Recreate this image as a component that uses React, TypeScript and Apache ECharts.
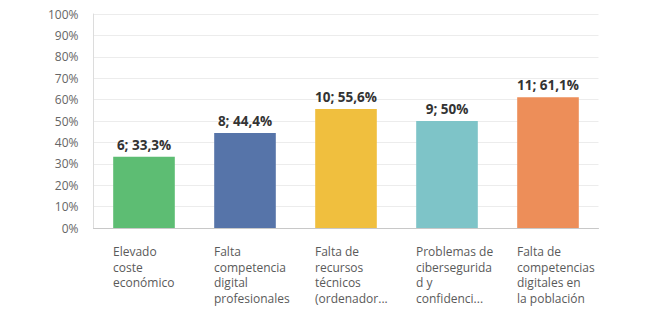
import React, { useEffect, useRef } from "react";
import * as echarts from "echarts";

const categories = [
  "Elevado\ncoste\neconómico",
  "Falta\ncompetencia\ndigital\nprofesionales",
  "Falta de\nrecursos\ntécnicos\n(ordenador...",
  "Problemas de\ncibersegurida\nd y\nconfidenci...",
  "Falta de\ncompetencias\ndigitales en\nla población",
];
const counts = [6, 8, 10, 9, 11];
const percents = [33.3, 44.4, 55.6, 50, 61.1];
const percentLabels = ["33,3%", "44,4%", "55,6%", "50%", "61,1%"];
const colors = ["#5dbd73", "#5674a9", "#f0bf3e", "#7ec4c8", "#ed8e59"];
const yTicks = [0, 10, 20, 30, 40, 50, 60, 70, 80, 90, 100];

const FONT = "'Open Sans', sans-serif";

export default function App() {
  const ref = useRef<HTMLDivElement>(null);
  useEffect(() => {
    if (!ref.current) return;
    const chart = echarts.init(ref.current, null, { renderer: "svg" });
    chart.setOption({
      animation: false,
      grid: { left: 93.5, right: 51.5, top: 14, bottom: 84, containLabel: false },
      xAxis: {
        type: "category",
        data: categories,
        axisTick: { show: false },
        axisLine: { show: true, lineStyle: { color: "#c8c8c8", width: 1 } },
        axisLabel: {
          interval: 0,
          margin: 16,
          width: 62,
          overflow: "none",
          align: "center",
          formatter: (v: string) => v.split("\n").map((l) => `{a|${l}}`).join("\n"),
          rich: {
            a: {
              fontFamily: FONT,
              fontSize: 12,
              color: "#5a5a5a",
              lineHeight: 15.5,
              align: "left",
            },
          },
        },
      },
      yAxis: {
        type: "value",
        min: yTicks[0],
        max: yTicks[yTicks.length - 1],
        interval: 10,
        axisLine: { show: true, lineStyle: { color: "#dcdcdc" } },
        axisTick: { show: false },
        splitLine: { show: true, lineStyle: { color: "#ececec" } },
        axisLabel: {
          margin: 15,
          fontFamily: FONT,
          fontSize: 12,
          color: "#666",
          formatter: (v: number) => `${v}%`,
        },
      },
      series: [
        {
          type: "bar",
          barWidth: "61%",
          data: percents.map((p, i) => ({
            value: p,
            itemStyle: { color: colors[i] },
            label: { formatter: `${counts[i]}; ${percentLabels[i]}` },
          })),
          label: {
            show: true,
            position: "top",
            distance: 5,
            fontFamily: FONT,
            fontSize: 13.5,
            fontWeight: "bold",
            color: "#333",
          },
        },
      ],
    });
    return () => chart.dispose();
  }, []);
  return <div ref={ref} style={{ width: 650, height: 312, position: "absolute", left: 0, top: 0 }} />;
}
